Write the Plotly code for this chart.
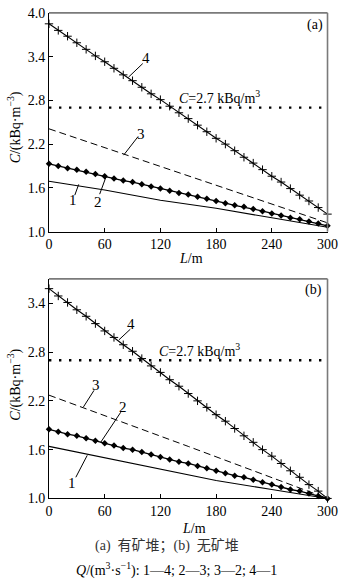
import plotly.graph_objects as go

# ---------------- data ----------------
L_fine = [0, 10, 20, 30, 40, 50, 60, 70, 80, 90, 100, 110, 120, 130, 140, 150,
          160, 170, 180, 190, 200, 210, 220, 230, 240, 250, 260, 270, 280, 290, 300]
L_coarse = [0, 60, 120, 180, 240, 300]
L_ends = [0, 150, 300]

# panel (a) 有矿堆
a_c4 = [3.85, 3.76, 3.68, 3.59, 3.50, 3.41, 3.33, 3.24, 3.15, 3.07, 2.98, 2.89, 2.81, 2.72, 2.63, 2.55,
        2.46, 2.37, 2.28, 2.20, 2.11, 2.02, 1.94, 1.85, 1.76, 1.68, 1.59, 1.50, 1.42, 1.33, 1.24]
a_c2 = [1.93, 1.90, 1.87, 1.85, 1.82, 1.79, 1.76, 1.73, 1.70, 1.68, 1.65, 1.62, 1.59, 1.56, 1.53, 1.51,
        1.48, 1.45, 1.42, 1.39, 1.36, 1.34, 1.31, 1.28, 1.25, 1.22, 1.19, 1.17, 1.14, 1.11, 1.08]
a_c3 = [2.41, 1.77, 1.12]
a_c1 = [1.69, 1.57, 1.43, 1.32, 1.19, 1.06]

# panel (b) 无矿堆
b_c4 = [3.58, 3.49, 3.41, 3.32, 3.24, 3.15, 3.06, 2.98, 2.89, 2.81, 2.72, 2.63, 2.55, 2.46, 2.38, 2.29,
        2.20, 2.12, 2.03, 1.95, 1.86, 1.77, 1.69, 1.60, 1.52, 1.43, 1.34, 1.26, 1.17, 1.09, 1.00]
b_c2 = [1.85, 1.82, 1.79, 1.77, 1.74, 1.71, 1.68, 1.65, 1.62, 1.60, 1.57, 1.54, 1.51, 1.48, 1.45, 1.43,
        1.40, 1.37, 1.34, 1.31, 1.28, 1.26, 1.23, 1.20, 1.17, 1.14, 1.11, 1.09, 1.06, 1.03, 1.00]
b_c3 = [2.27, 1.64, 1.00]
b_c1 = [1.64, 1.50, 1.36, 1.22, 1.11, 1.00]

C_limit = 2.7
x_ticks = [0, 60, 120, 180, 240, 300]
ya_ticks = [1.0, 1.6, 2.2, 2.8, 3.4, 4.0]
yb_ticks = [1.0, 1.6, 2.2, 2.8, 3.4]

SERIF = "Liberation Serif, Times New Roman, serif"
CJK = "Liberation Serif, Noto Sans CJK SC, serif"

fig = go.Figure()


def add_panel(xa, ya, c4, c2, c3, c1):
    fig.add_trace(go.Scatter(x=[0, 300], y=[C_limit, C_limit], mode="lines", xaxis=xa, yaxis=ya,
                             line=dict(color="black", width=2.4, dash="2.4px,7.6px"),
                             showlegend=False, hoverinfo="skip"))
    fig.add_trace(go.Scatter(x=L_coarse, y=c1, mode="lines", xaxis=xa, yaxis=ya,
                             line=dict(color="black", width=1.1), showlegend=False))
    fig.add_trace(go.Scatter(x=L_ends, y=c3, mode="lines", xaxis=xa, yaxis=ya,
                             line=dict(color="black", width=1, dash="7px,4px"), showlegend=False))
    fig.add_trace(go.Scatter(x=L_fine, y=c2, mode="lines+markers", xaxis=xa, yaxis=ya, cliponaxis=False,
                             line=dict(color="black", width=1.3),
                             marker=dict(symbol="diamond", size=5, color="black"), showlegend=False))
    fig.add_trace(go.Scatter(x=L_fine, y=c4, mode="lines+markers", xaxis=xa, yaxis=ya, cliponaxis=False,
                             line=dict(color="black", width=1.1),
                             marker=dict(symbol="cross-thin", size=6,
                                         line=dict(color="black", width=1)), showlegend=False))


add_panel("x", "y", a_c4, a_c2, a_c3, a_c1)
add_panel("x2", "y2", b_c4, b_c2, b_c3, b_c1)

x0, x1 = 47 / 350, 338 / 350
ax_common = dict(range=[0, 300], tickvals=x_ticks, ticks="inside", ticklen=4, tickcolor="black",
                 showline=True, linecolor="black", linewidth=1, showgrid=False, zeroline=False,
                 ticklabeloverflow="allow",
                 tickfont=dict(family=SERIF, size=14, color="black"), domain=[x0, x1])
ay_common = dict(ticks="inside", ticklen=4, tickcolor="black", showline=True, linecolor="black",
                 linewidth=1, showgrid=False, zeroline=False, ticklabeloverflow="allow",
                 tickfont=dict(family=SERIF, size=14, color="black"))

fig.update_layout(
    width=350, height=588, margin=dict(l=0, r=0, t=0, b=0),
    paper_bgcolor="white", plot_bgcolor="white",
    xaxis=dict(ax_common, anchor="y"),
    yaxis=dict(ay_common, range=[1, 4.0005], tickvals=ya_ticks, ticktext=[f"{v:.1f}" for v in ya_ticks],
               domain=[1 - 230.5 / 588, 1 - 6 / 588], anchor="x"),
    xaxis2=dict(ax_common, anchor="y2"),
    yaxis2=dict(ay_common, range=[1, 3.7], tickvals=yb_ticks, ticktext=[f"{v:.1f}" for v in yb_ticks],
                domain=[1 - 504.3 / 588, 1 - 279 / 588], anchor="x2"),
)

# top/right frame in grey
for xr, yr in (("x domain", "y domain"), ("x2 domain", "y2 domain")):
    fig.add_shape(type="line", xref=xr, yref=yr, x0=0, x1=1, y0=1, y1=1,
                  line=dict(color="#7a7a7a", width=1.6))
    fig.add_shape(type="line", xref=xr, yref=yr, x0=1, x1=1, y0=0, y1=1,
                  line=dict(color="#7a7a7a", width=1.6))

# leader lines (data coords)
leaders_a = [((101.0, 3.305), (85.6, 3.118)), ((95.9, 2.303), (80.4, 2.049)),
             ((54.6, 1.514), (61.9, 1.768)), ((27.8, 1.50), (32.0, 1.648))]
leaders_b = [((87.6, 3.081), (75.3, 2.950)), ((48.5, 2.329), (37.1, 2.125)),
             ((77.3, 2.06), (55.7, 1.69)), ((28.9, 1.26), (41.2, 1.53))]
for (p, q) in leaders_a:
    fig.add_shape(type="line", xref="x", yref="y", x0=p[0], y0=p[1], x1=q[0], y1=q[1],
                  line=dict(color="black", width=1))
for (p, q) in leaders_b:
    fig.add_shape(type="line", xref="x2", yref="y2", x0=p[0], y0=p[1], x1=q[0], y1=q[1],
                  line=dict(color="black", width=1))

labels_a = [("4", 104.1, 3.385), ("3", 99.0, 2.343), ("2", 52.6, 1.407), ("1", 25.8, 1.434)]
labels_b = [("4", 88.7, 3.143), ("3", 50.5, 2.389), ("2", 79.4, 2.126), ("1", 24.7, 1.195)]
for t, x, y in labels_a:
    fig.add_annotation(text=t, x=x, y=y, xref="x", yref="y", showarrow=False,
                       font=dict(family=SERIF, size=15, color="black"))
for t, x, y in labels_b:
    fig.add_annotation(text=t, x=x, y=y, xref="x2", yref="y2", showarrow=False,
                       font=dict(family=SERIF, size=15, color="black"))


def px(xp, yp, text, size=14, angle=0, family=SERIF, color="black"):
    fig.add_annotation(text=text, x=xp / 350, y=1 - yp / 588, xref="paper", yref="paper",
                       showarrow=False, textangle=angle, xanchor="center", yanchor="middle",
                       font=dict(family=family, size=size, color=color))


px(225, 92, "<i>C</i>=2.7 kBq/m<sup>3</sup>")
px(204, 352, "<i>C</i>=2.7 kBq/m<sup>3</sup>")
px(325, 18, "(a)")
px(323, 290, "(b)")
px(11, 124, "<i>C</i>/(kBq·m<sup>−3</sup>)", angle=-90)
px(11, 388, "<i>C</i>/(kBq·m<sup>−3</sup>)", angle=-90)
px(195, 258, "<i>L</i>/m")
px(198, 535, "<i>L</i>/m")
px(170, 553, "(a)  有矿堆；(b)  无矿堆", size=14, family=CJK, color="#333333")
px(180, 577, "<i>Q</i>/(m<sup>3</sup>·s<sup>−1</sup>): 1—4; 2—3; 3—2; 4—1", size=14)

fig.write_html("out.html")
